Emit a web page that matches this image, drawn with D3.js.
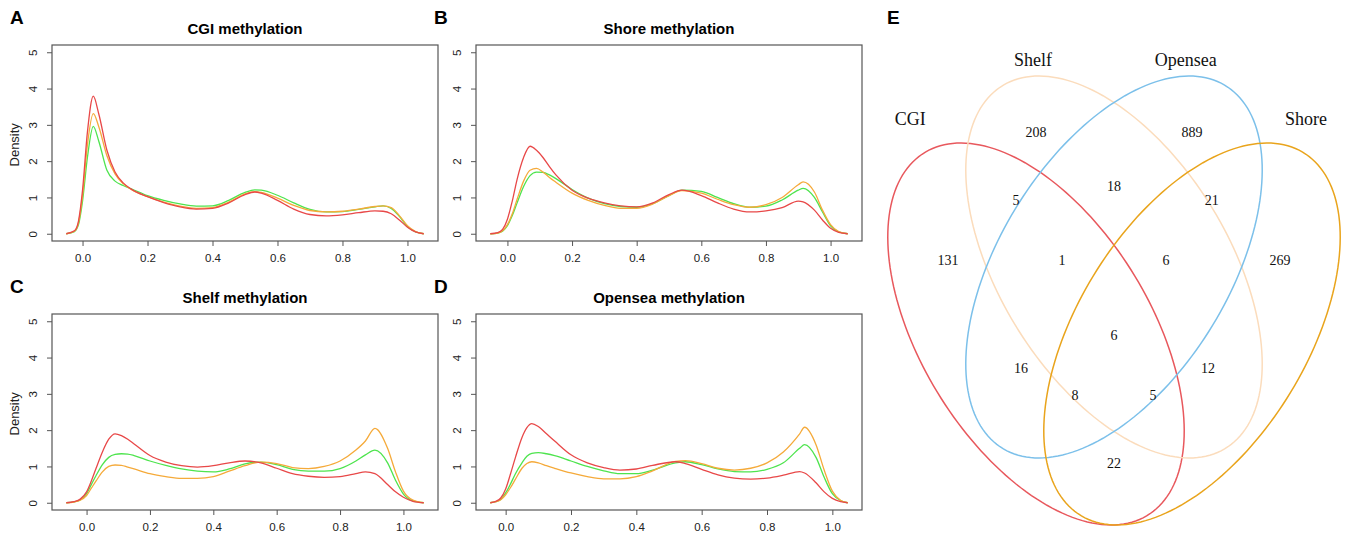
<!DOCTYPE html>
<html>
<head>
<meta charset="utf-8">
<script src="https://cdn.jsdelivr.net/npm/d3@7"></script>
<style>
  body { margin: 0; background: #fff; }
  svg { display: block; background: #fff; }
</style>
</head>
<body>
<svg width="1347" height="535"></svg>
<script>
// density panels: x grids and the three group curves
var panelLetters = ["A", "B", "C", "D"];
var panelTitles = ["CGI methylation", "Shore methylation", "Shelf methylation", "Opensea methylation"];
var xTicks = [0, 0.2, 0.4, 0.6, 0.8, 1.0];
var yTicks = [0, 1, 2, 3, 4, 5];

var cgiGrid = [-0.05, -0.025, -0.0125, 0, 0.015, 0.033, 0.05, 0.075, 0.1, 0.125, 0.15, 0.2, 0.25, 0.3, 0.35, 0.4, 0.45,
               0.5, 0.53, 0.55, 0.6, 0.65, 0.7, 0.75, 0.8, 0.85, 0.9, 0.925, 0.95, 0.975, 1.0, 1.025, 1.05];
var cgiRed = [0, 0.08, 0.35, 1.2, 2.8, 3.79, 3.3, 2.3, 1.7, 1.4, 1.23, 1.02, 0.86, 0.74, 0.68, 0.7, 0.85,
              1.08, 1.15, 1.12, 0.92, 0.68, 0.53, 0.49, 0.52, 0.58, 0.63, 0.62, 0.55, 0.38, 0.18, 0.05, 0];
var cgiOrange = [0, 0.07, 0.3, 1.05, 2.45, 3.31, 2.95, 2.15, 1.65, 1.38, 1.22, 1.02, 0.87, 0.76, 0.7, 0.72, 0.87,
                 1.1, 1.16, 1.14, 0.98, 0.78, 0.64, 0.6, 0.62, 0.68, 0.75, 0.77, 0.72, 0.5, 0.22, 0.06, 0];
var cgiGreen = [0, 0.06, 0.25, 0.9, 2.1, 2.96, 2.55, 1.75, 1.45, 1.33, 1.24, 1.05, 0.92, 0.82, 0.76, 0.77, 0.92,
                1.14, 1.21, 1.2, 1.06, 0.85, 0.67, 0.6, 0.61, 0.67, 0.74, 0.77, 0.7, 0.48, 0.2, 0.05, 0];

var shoreGrid = [-0.053, -0.03, -0.015, 0, 0.015, 0.03, 0.05, 0.07, 0.09, 0.11, 0.13, 0.15, 0.2, 0.25, 0.3, 0.35, 0.4,
                 0.45, 0.5, 0.54, 0.6, 0.65, 0.7, 0.75, 0.8, 0.85, 0.9, 0.915, 0.95, 0.975, 1.0, 1.025, 1.053];
var shoreRed = [0, 0.03, 0.12, 0.4, 0.9, 1.5, 2.1, 2.41, 2.3, 2.1, 1.85, 1.62, 1.2, 0.98, 0.85, 0.77, 0.74,
                0.85, 1.08, 1.2, 1.05, 0.85, 0.68, 0.6, 0.63, 0.72, 0.9, 0.88, 0.65, 0.38, 0.15, 0.04, 0];
var shoreOrange = [0, 0.02, 0.08, 0.25, 0.55, 0.95, 1.45, 1.75, 1.8, 1.7, 1.55, 1.42, 1.12, 0.92, 0.78, 0.7, 0.7,
                   0.82, 1.05, 1.19, 1.12, 0.95, 0.8, 0.73, 0.8, 1.0, 1.35, 1.43, 1.15, 0.65, 0.25, 0.06, 0];
var shoreGreen = [0, 0.02, 0.07, 0.22, 0.5, 0.85, 1.3, 1.6, 1.7, 1.69, 1.62, 1.52, 1.22, 0.98, 0.83, 0.75, 0.73,
                  0.83, 1.05, 1.2, 1.17, 1.0, 0.83, 0.73, 0.76, 0.93, 1.2, 1.25, 1.0, 0.6, 0.22, 0.05, 0];

var shelfGrid = [-0.064, -0.04, -0.02, 0, 0.015, 0.03, 0.05, 0.07, 0.09, 0.11, 0.13, 0.15, 0.2, 0.25, 0.3, 0.35, 0.4,
                 0.45, 0.5, 0.55, 0.6, 0.65, 0.7, 0.75, 0.8, 0.85, 0.88, 0.91, 0.95, 0.975, 1.0, 1.03, 1.064];
var shelfRed = [0, 0.03, 0.1, 0.3, 0.6, 0.95, 1.4, 1.75, 1.9, 1.85, 1.75, 1.62, 1.3, 1.12, 1.02, 0.98, 1.02,
                1.1, 1.15, 1.1, 0.95, 0.8, 0.73, 0.7, 0.72, 0.8, 0.85, 0.8, 0.5, 0.3, 0.15, 0.04, 0];
var shelfOrange = [0, 0.02, 0.07, 0.2, 0.4, 0.6, 0.85, 1.0, 1.04, 1.03, 0.98, 0.93, 0.8, 0.72, 0.67, 0.67, 0.72,
                   0.87, 1.02, 1.12, 1.08, 0.97, 0.94, 1.0, 1.15, 1.45, 1.7, 2.05, 1.5, 0.85, 0.32, 0.07, 0];
var shelfGreen = [0, 0.025, 0.08, 0.25, 0.5, 0.75, 1.05, 1.25, 1.33, 1.35, 1.34, 1.3, 1.15, 1.03, 0.93, 0.87, 0.85,
                  0.93, 1.07, 1.12, 1.05, 0.92, 0.87, 0.87, 0.94, 1.15, 1.32, 1.45, 1.1, 0.62, 0.24, 0.05, 0];

var openseaGrid = [-0.047, -0.03, -0.015, 0, 0.015, 0.03, 0.05, 0.065, 0.08, 0.1, 0.125, 0.15, 0.2, 0.25, 0.3, 0.35, 0.4,
                   0.45, 0.52, 0.55, 0.6, 0.65, 0.7, 0.75, 0.8, 0.85, 0.9, 0.915, 0.95, 0.975, 1.0, 1.025, 1.047];
var openseaRed = [0, 0.04, 0.13, 0.38, 0.8, 1.25, 1.8, 2.07, 2.18, 2.1, 1.9, 1.7, 1.32, 1.1, 0.97, 0.9, 0.93,
                  1.03, 1.13, 1.08, 0.92, 0.77, 0.68, 0.65, 0.68, 0.76, 0.86, 0.82, 0.55, 0.3, 0.12, 0.03, 0];
var openseaOrange = [0, 0.03, 0.08, 0.22, 0.42, 0.65, 0.95, 1.08, 1.13, 1.1, 1.02, 0.95, 0.82, 0.72, 0.66, 0.66, 0.72,
                     0.88, 1.14, 1.16, 1.08, 0.95, 0.9, 0.95, 1.1, 1.4, 1.9, 2.08, 1.6, 0.9, 0.32, 0.07, 0];
var openseaGreen = [0, 0.03, 0.09, 0.27, 0.52, 0.8, 1.1, 1.28, 1.36, 1.38, 1.35, 1.3, 1.15, 1.0, 0.88, 0.8, 0.8,
                    0.9, 1.1, 1.13, 1.05, 0.93, 0.86, 0.85, 0.92, 1.1, 1.5, 1.6, 1.25, 0.7, 0.25, 0.06, 0];

// venn: set names and region counts
var vennSets = ["CGI", "Shelf", "Opensea", "Shore"];
var vennRegions = ["Shelf", "Opensea", "CGI&Shelf", "Shelf&Opensea", "Opensea&Shore", "CGI", "CGI&Shelf&Opensea",
                   "Shelf&Opensea&Shore", "Shore", "all", "CGI&Opensea", "Shelf&Shore", "CGI&Opensea&Shore",
                   "CGI&Shelf&Shore", "CGI&Shore"];
var vennCounts = [208, 889, 5, 18, 21, 131, 1, 6, 269, 6, 16, 12, 8, 5, 22];

var grids = [cgiGrid, shoreGrid, shelfGrid, openseaGrid];
var curves = [
  [cgiGreen, cgiOrange, cgiRed],
  [shoreGreen, shoreOrange, shoreRed],
  [shelfGreen, shelfOrange, shelfRed],
  [openseaGreen, openseaOrange, openseaRed]
];
var lineColors = ["#4ee44e", "#f5aa3a", "#e84848"];

var svg = d3.select("svg");
var sans = "'Liberation Sans', Arial, sans-serif";
var serif = "'Liberation Serif', 'Times New Roman', serif";

var boxW = 386, boxH = 196;
var boxes = [{left: 52, top: 45}, {left: 476, top: 45}, {left: 52, top: 314}, {left: 476, top: 314}];

boxes.forEach(function(b, i) {
  var grid = grids[i];
  var xmin = grid[0], xmax = grid[grid.length - 1];
  var pad = 0.04 * (xmax - xmin);

  var xScale = d3.scaleLinear()
                 .domain([xmin - pad, xmax + pad])
                 .range([b.left, b.left + boxW]);

  var yScale = d3.scaleLinear()
                 .domain([-0.2, 5.2])
                 .range([b.top + boxH, b.top]);

  var line = d3.line()
               .x((d, j) => xScale(grid[j]))
               .y(d => yScale(d))
               .curve(d3.curveMonotoneX);

  svg
    .append("text")
      .text(panelLetters[i])
      .attr("x", b.left - 42)
      .attr("y", b.top - 21)
      .style("font-family", sans)
      .style("font-size", "19px")
      .style("font-weight", "bold");

  svg
    .append("text")
      .text(panelTitles[i])
      .attr("x", b.left + boxW / 2)
      .attr("y", b.top - 11)
      .style("text-anchor", "middle")
      .style("font-family", sans)
      .style("font-size", "15px")
      .style("font-weight", "bold");

  if (b.left < 100) {
    svg
      .append("text")
        .text("Density")
        .attr("transform", "translate(" + (b.left - 33) + "," + yScale(2.45) + ") rotate(-90)")
        .style("text-anchor", "middle")
        .style("font-family", sans)
        .style("font-size", "13px")
        .style("fill", "#222");
  }

  curves[i].forEach(function(vals, k) {
    svg
      .append("path")
        .attr("d", line(vals))
        .attr("fill", "none")
        .attr("stroke", lineColors[k])
        .attr("stroke-width", 1.3);
  });

  svg
    .append("rect")
      .attr("x", b.left)
      .attr("y", b.top)
      .attr("width", boxW)
      .attr("height", boxH)
      .attr("fill", "none")
      .attr("stroke", "#555")
      .attr("stroke-width", 1.2);

  var xAxis = d3.axisBottom(xScale)
                .tickValues(xTicks)
                .tickSize(5)
                .tickFormat(d3.format(".1f"));

  var yAxis = d3.axisLeft(yScale)
                .tickValues(yTicks)
                .tickSize(5)
                .tickFormat(d3.format("d"));

  var gx = svg
    .append("g")
      .attr("transform", "translate(0," + (b.top + boxH) + ")")
      .call(xAxis);
  gx.select(".domain").remove();
  gx.selectAll("line").attr("stroke", "#555");
  gx.selectAll("text")
      .attr("y", 13)
      .style("font-family", sans)
      .style("font-size", "11.5px")
      .style("fill", "#222");

  var gy = svg
    .append("g")
      .attr("transform", "translate(" + b.left + ",0)")
      .call(yAxis);
  gy.select(".domain").remove();
  gy.selectAll("line").attr("stroke", "#555");
  gy.selectAll("text")
      .attr("x", null)
      .attr("dy", null)
      .attr("transform", "translate(-15,0) rotate(-90)")
      .style("text-anchor", "middle")
      .style("font-family", sans)
      .style("font-size", "11.5px")
      .style("fill", "#222");
});

// panel E, four-set venn in unit coordinates
var vx = d3.scaleLinear().domain([0, 1]).range([854, 1374]);
var vy = d3.scaleLinear().domain([0, 1]).range([648.9, -21.1]);

var ellipses = [
  {cx: 0.35, cy: 0.47, rot: -45, color: "#e8585d"},
  {cx: 0.5, cy: 0.57, rot: -45, color: "#fbdcbc"},
  {cx: 0.5, cy: 0.57, rot: 45, color: "#7cc0ea"},
  {cx: 0.65, cy: 0.47, rot: 45, color: "#e9a41c"}
];
var setLabelPos = [[0.108, 0.792], [0.344, 0.88], [0.638, 0.88], [0.869, 0.792]];
var regionPos = [[0.35, 0.771], [0.65, 0.771], [0.3115, 0.67], [0.5, 0.691], [0.688, 0.67], [0.181, 0.58],
                 [0.4, 0.58], [0.6, 0.58], [0.819, 0.58], [0.5, 0.468], [0.321, 0.419], [0.681, 0.419],
                 [0.425, 0.379], [0.575, 0.379], [0.5, 0.277]];

var vennLine = d3.line()
                 .x(p => vx(p[0]))
                 .y(p => vy(p[1]))
                 .curve(d3.curveLinearClosed);

ellipses.forEach(function(e) {
  var th = e.rot * Math.PI / 180;
  var pts = d3.range(0, 360, 2).map(function(deg) {
    var t = deg * Math.PI / 180;
    return [e.cx + 0.35 * Math.cos(t) * Math.cos(th) - 0.2 * Math.sin(t) * Math.sin(th),
            e.cy + 0.35 * Math.cos(t) * Math.sin(th) + 0.2 * Math.sin(t) * Math.cos(th)];
  });
  svg
    .append("path")
      .attr("d", vennLine(pts))
      .attr("fill", "none")
      .attr("stroke", e.color)
      .attr("stroke-width", 1.5);
});

svg
  .append("text")
    .text("E")
    .attr("x", 887)
    .attr("y", 24)
    .style("font-family", sans)
    .style("font-size", "19px")
    .style("font-weight", "bold");

svg
  .selectAll(".setname")
  .data(vennSets)
  .enter()
  .append("text")
    .attr("class", "setname")
    .text(d => d)
    .attr("x", (d, i) => vx(setLabelPos[i][0]))
    .attr("y", (d, i) => vy(setLabelPos[i][1]))
    .attr("dy", "0.35em")
    .style("text-anchor", "middle")
    .style("font-family", serif)
    .style("font-size", "18px")
    .style("fill", "#111");

svg
  .selectAll(".count")
  .data(vennCounts)
  .enter()
  .append("text")
    .attr("class", "count")
    .text(d => d)
    .attr("x", (d, i) => vx(regionPos[i][0]))
    .attr("y", (d, i) => vy(regionPos[i][1]))
    .attr("dy", "0.35em")
    .style("text-anchor", "middle")
    .style("font-family", serif)
    .style("font-size", "14px")
    .style("fill", "#111");
</script>
</body>
</html>
